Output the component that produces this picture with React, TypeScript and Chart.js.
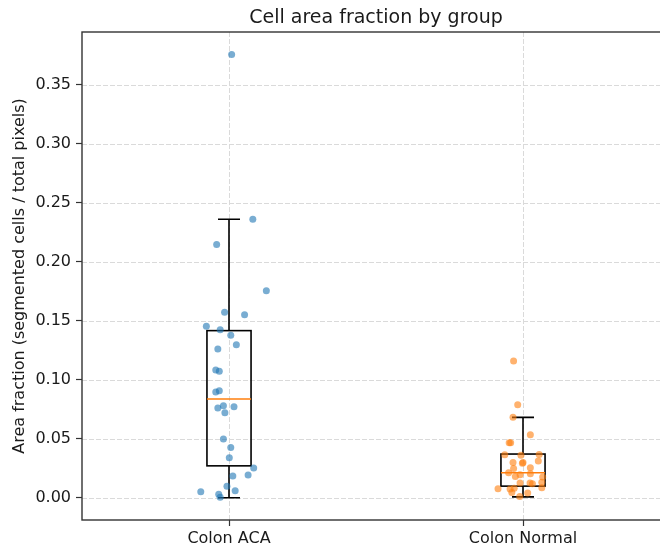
import React, { useEffect, useRef } from "react";
import { Chart, registerables } from "chart.js";

Chart.register(...registerables);

// ---- data ----
const categories = ["Colon ACA", "Colon Normal"];
const positions = [1, 2];

const acaValues = [
  0.3757, 0.2361, 0.2146, 0.1756, 0.1572, 0.1552, 0.1454, 0.1425, 0.1377, 0.1298,
  0.1261, 0.1083, 0.1072, 0.0908, 0.0897, 0.078, 0.0772, 0.0761, 0.0721, 0.0498,
  0.0427, 0.0339, 0.0252, 0.0193, 0.0184, 0.0097, 0.0059, 0.0051, 0.0031, 0.0005,
];
const acaJitter = [
  0.009, 0.081, -0.042, 0.127, -0.015, 0.053, -0.077, -0.03, 0.006, 0.025,
  -0.038, -0.045, -0.033, -0.033, -0.045, -0.019, 0.017, -0.038, -0.014, -0.019,
  0.006, 0.001, 0.084, 0.065, 0.013, -0.007, 0.021, -0.096, -0.035, -0.03,
];

const normalValues = [
  0.1159, 0.0789, 0.0682, 0.0534, 0.0467, 0.0467, 0.0365, 0.036, 0.0368, 0.03,
  0.03, 0.0292, 0.0311, 0.0254, 0.0249, 0.0212, 0.0181, 0.0195, 0.0204, 0.0176,
  0.0125, 0.0125, 0.0119, 0.0131, 0.0076, 0.0074, 0.0082, 0.0085, 0.0046, 0.004,
  0.0012,
];
const normalJitter = [
  -0.032, -0.018, -0.034, 0.025, -0.047, -0.042, -0.062, -0.007, 0.055, -0.034,
  0.0, -0.002, 0.052, 0.025, -0.032, -0.049, -0.026, -0.01, 0.025, 0.067,
  -0.01, 0.024, 0.032, 0.064, -0.085, -0.044, -0.03, 0.064, -0.038, 0.016,
  -0.011,
];

const boxQ1 = [0.0271, 0.0099];
const boxMedian = [0.0837, 0.0212];
const boxQ3 = [0.1417, 0.0371];
const whiskerLow = [0.0, 0.0008];
const whiskerHigh = [0.2361, 0.0682];

const yTicks = [0, 0.05, 0.1, 0.15, 0.2, 0.25, 0.3, 0.35];
const yMin = -0.0188;
const yMax = 0.3948;
const xMin = 0.5;
const xMax = 2.5;

const titleText = "Cell area fraction by group";
const yLabelText = "Area fraction (segmented cells / total pixels)";

// ---- styles ----
const FONT = '"DejaVu Sans", "Liberation Sans", sans-serif';
const TEXT = "#1a1a1a";
const BLUE_PT = "rgba(31,119,180,0.6)";
const ORANGE_PT = "rgba(255,127,14,0.6)";
const MEDIAN = "#ff7f0e";
const GRID = "#dadada";
const SPINE = "#333333";
const BOX_W = 0.15;
const CAP_W = 0.075;

const boxPlugin = {
  id: "boxPlugin",
  beforeDatasetsDraw(chart: any) {
    const { ctx, chartArea, scales } = chart;
    const x = scales.x;
    const y = scales.y;
    ctx.save();
    // grid
    ctx.strokeStyle = GRID;
    ctx.lineWidth = 1;
    ctx.setLineDash([5, 2]);
    for (const t of yTicks) {
      const py = Math.round(y.getPixelForValue(t)) + 0.5;
      ctx.beginPath();
      ctx.moveTo(chartArea.left, py);
      ctx.lineTo(chartArea.right, py);
      ctx.stroke();
    }
    for (const p of positions) {
      const px = Math.round(x.getPixelForValue(p)) + 0.5;
      ctx.beginPath();
      ctx.moveTo(px, chartArea.top);
      ctx.lineTo(px, chartArea.bottom);
      ctx.stroke();
    }
    ctx.setLineDash([]);
    // boxes
    for (let i = 0; i < positions.length; i++) {
      const p = positions[i];
      const xl = x.getPixelForValue(p - BOX_W / 2);
      const xr = x.getPixelForValue(p + BOX_W / 2);
      const xc = x.getPixelForValue(p);
      const cl = x.getPixelForValue(p - CAP_W / 2);
      const cr = x.getPixelForValue(p + CAP_W / 2);
      const yq1 = y.getPixelForValue(boxQ1[i]);
      const yq3 = y.getPixelForValue(boxQ3[i]);
      const ymed = y.getPixelForValue(boxMedian[i]);
      const ylo = y.getPixelForValue(whiskerLow[i]);
      const yhi = y.getPixelForValue(whiskerHigh[i]);
      ctx.strokeStyle = "#000";
      ctx.lineWidth = 1.6;
      ctx.strokeRect(xl, yq3, xr - xl, yq1 - yq3);
      ctx.beginPath();
      ctx.moveTo(xc, yq3);
      ctx.lineTo(xc, yhi);
      ctx.moveTo(xc, yq1);
      ctx.lineTo(xc, ylo);
      ctx.moveTo(cl, yhi);
      ctx.lineTo(cr, yhi);
      ctx.moveTo(cl, ylo);
      ctx.lineTo(cr, ylo);
      ctx.stroke();
      ctx.strokeStyle = MEDIAN;
      ctx.beginPath();
      ctx.moveTo(xl, ymed);
      ctx.lineTo(xr, ymed);
      ctx.stroke();
    }
    ctx.restore();
  },
  afterDraw(chart: any) {
    const { ctx, chartArea } = chart;
    ctx.save();
    ctx.strokeStyle = SPINE;
    ctx.lineWidth = 1.4;
    ctx.strokeRect(chartArea.left, chartArea.top, chartArea.right - chartArea.left, chartArea.bottom - chartArea.top);
    ctx.fillStyle = TEXT;
    ctx.font = `19px ${FONT}`;
    ctx.textAlign = "center";
    ctx.textBaseline = "alphabetic";
    ctx.fillText(titleText, (chartArea.left + chartArea.right) / 2, 23);
    ctx.font = `16px ${FONT}`;
    ctx.translate(20, (chartArea.top + chartArea.bottom) / 2);
    ctx.rotate(-Math.PI / 2);
    ctx.textBaseline = "middle";
    ctx.fillText(yLabelText, 0, 0);
    ctx.restore();
  },
};

export default function App() {
  const ref = useRef<HTMLCanvasElement>(null);
  useEffect(() => {
    if (!ref.current) return;
    const chart = new Chart(ref.current, {
      type: "scatter",
      data: {
        datasets: [
          {
            label: categories[0],
            data: acaValues.map((v, i) => ({ x: positions[0] + acaJitter[i], y: v })),
            backgroundColor: BLUE_PT,
            borderWidth: 0,
            pointRadius: 3.5,
          },
          {
            label: categories[1],
            data: normalValues.map((v, i) => ({ x: positions[1] + normalJitter[i], y: v })),
            backgroundColor: ORANGE_PT,
            borderWidth: 0,
            pointRadius: 3.5,
          },
        ],
      },
      options: {
        animation: false,
        responsive: false,
        devicePixelRatio: 1,
        layout: { padding: { top: 32, right: 10, left: 0, bottom: 0 } },
        plugins: { legend: { display: false }, tooltip: { enabled: false }, title: { display: false } },
        scales: {
          x: {
            type: "linear",
            min: xMin,
            max: xMax,
            afterBuildTicks: (s: any) => {
              s.ticks = positions.map((v) => ({ value: v }));
            },
            afterFit: (s: any) => {
              s.height = 28;
            },
            border: { display: false },
            grid: { display: true, drawOnChartArea: false, drawTicks: true, tickLength: 6, tickColor: SPINE, tickWidth: 1.2 },
            ticks: {
              autoSkip: false,
              maxRotation: 0,
              padding: 3,
              color: TEXT,
              font: { family: FONT, size: 16 },
              callback: (v: any) => {
                const i = positions.indexOf(Number(v));
                return i >= 0 ? categories[i] : "";
              },
            },
          },
          y: {
            type: "linear",
            min: yMin,
            max: yMax,
            afterBuildTicks: (s: any) => {
              s.ticks = yTicks.map((v) => ({ value: v }));
            },
            afterFit: (s: any) => {
              s.width = 82;
            },
            border: { display: false },
            grid: { display: true, drawOnChartArea: false, drawTicks: true, tickLength: 6, tickColor: SPINE, tickWidth: 1.2 },
            ticks: {
              padding: 5,
              color: TEXT,
              font: { family: FONT, size: 16 },
              callback: (v: any) => Number(v).toFixed(2),
            },
          },
        },
      },
      plugins: [boxPlugin],
    } as any);
    return () => chart.destroy();
  }, []);
  return (
    <div style={{ position: "absolute", left: 0, top: 0, width: 660, height: 548, overflow: "hidden", background: "#fff" }}>
      <canvas ref={ref} width={680} height={548} style={{ width: 680, height: 548, display: "block" }} />
    </div>
  );
}
